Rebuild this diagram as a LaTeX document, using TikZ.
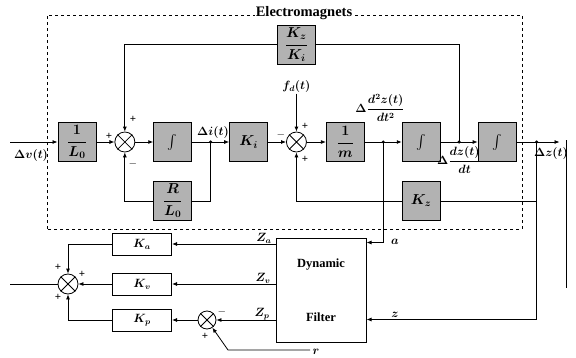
\documentclass[tikz,border=0pt]{standalone}
\usepackage{amsmath}
\usepackage{fontspec}
\setmainfont{Liberation Serif}
\usetikzlibrary{arrows.meta,positioning,calc}

\begin{document}
\begin{tikzpicture}[x=1pt,y=1pt,node distance=18pt,>={Latex[length=5pt,width=4pt]},line width=0.8pt,
font=\fontsize{12}{14}\selectfont\bfseries\boldmath,
gbox/.style={draw,line width=0.9pt,fill=gray!60,minimum width=38pt,minimum height=39pt,inner sep=1pt,
  font=\fontsize{14}{16}\selectfont\bfseries\boldmath},
kbox/.style={draw,line width=1pt,minimum width=59pt,minimum height=22pt,inner sep=1pt},
sumj/.style={draw,circle,minimum size=20pt,inner sep=0pt},
sgn/.style={inner sep=0pt,font=\fontsize{11}{12}\selectfont\bfseries},
lbl/.style={inner sep=1pt}]
\useasboundingbox (0,0) rectangle (576,357);
% electromagnet frame
\draw[dashed,line width=0.7pt] (47,128) rectangle (522,342);
\node[fill=white,inner sep=1pt,anchor=base,font=\fontsize{14.5}{16}\selectfont\bfseries] (emag) at (304,340) {Electromagnets};
% forward chain
\node[gbox] (l0) at (77,215) {$\dfrac{1}{L_0}$};
\node[sumj,right=of l0] (s1) {};
\node[gbox,right=of s1] (int1) {$\int$};
\node[gbox,right=37pt of int1] (ki) {$K_i$};
\node[sumj,right=of ki] (s2) {};
\node[gbox,right=19pt of s2] (m) {$\dfrac{1}{m}$};
\node[gbox,right=37pt of m] (int2) {$\int$};
\node[gbox,right=37pt of int2] (int3) {$\int$};
\node[gbox,above=67pt of s2] (kzki) {$\dfrac{K_z}{K_i}$};
\node[gbox,below=19pt of int1] (rl0) {$\dfrac{R}{L_0}$};
\node[gbox,below=19pt of int2] (kz) {$K_z$};
\node[lbl,above=38pt of s2] (fd) {$f_d(t)$};
\coordinate (tapi) at ($(int1.east)!0.5!(ki.west)$);
\coordinate (tapa) at ($(m.east)!0.5!(int2.west)$);
\coordinate (tapv) at ($(int2.east)!0.5!(int3.west)$);
\coordinate[right=20pt of int3] (tapz);
\coordinate[right=23pt of tapz] (outz);
\coordinate (inv) at (10,215);
% filter and gains
\node[draw,line width=1pt,minimum width=90pt,minimum height=104pt,align=center,
  font=\fontsize{12.5}{14}\selectfont\bfseries] (filt) at (321,67) {Dynamic\\[40pt]Filter};
\node[kbox] (ka) at (142,113) {$K_a$};
\node[kbox] (kv) at (142,73) {$K_v$};
\node[kbox] (kp) at (142,37) {$K_p$};
\node[sumj,minimum size=18pt] (s3) at (207,37) {};
\node[sumj] (s4) at (68,73) {};
\coordinate (outl) at (10,73);
\coordinate (rc) at (228,7);
\coordinate (rend) at (310,7);
\foreach \s in {s1,s2,s3,s4} \draw (\s.45) -- (\s.225) (\s.135) -- (\s.315);
\foreach \p in {tapi,tapa,tapv,tapz} \fill (\p) circle (1.7pt);
% connectors
\draw[->] (inv) -- (l0);
\draw[->] (l0) -- (s1);
\draw[->] (s1) -- (int1);
\draw[->] (int1) -- (ki);
\draw[->] (ki) -- (s2);
\draw[->] (s2) -- (m);
\draw[->] (m) -- (int2);
\draw[->] (int2) -- (int3);
\draw[->] (int3) -- (outz);
\draw (tapv) |- (kzki);
\draw[->] (kzki) -| (s1);
\draw (tapi) |- (rl0);
\draw[->] (rl0) -| (s1);
\draw[->] (fd) -- (s2);
\draw (tapz) |- (kz);
\draw[->] (kz) -| (s2);
\draw[->] (tapa) |- ([yshift=-5pt]filt.north east);
\draw[->] (tapz) |- ([yshift=23pt]filt.south east);
\draw[->] (filt.west |- ka) -- (ka);
\draw[->] (filt.west |- kv) -- (kv);
\draw[->] (filt.west |- kp) -- (s3);
\draw[->] (s3) -- (kp);
\draw[->] (rend) -- (rc) -- (s3);
\draw[->] (ka) -| (s4);
\draw[->] (kv) -- (s4);
\draw[->] (kp) -| (s4);
\draw (s4) -- (outl);
\draw[line width=0.6pt] (566,217) -- (566,69);
% labels
\node[lbl] at (31,202) {$\Delta v(t)$};
\node[lbl] at (213,225) {$\Delta i(t)$};
\node[lbl] at (380,249) {$\Delta\dfrac{d^2z(t)}{dt^2}$};
\node[lbl] at (459,197) {$\Delta\dfrac{dz(t)}{dt}$};
\node[lbl] at (551,204) {$\Delta z(t)$};
\node[lbl] at (264,119) {$Z_a$};
\node[lbl] at (263,79) {$Z_v$};
\node[lbl] at (262,43) {$Z_p$};
\node[lbl] at (395,115) {$a$};
\node[lbl] at (395,42) {$z$};
\node[lbl] at (316,5) {$r$};
% signs
\node[sgn] at (109,221) {+};
\node[sgn] at (133,238) {+};
\node[sgn] at (133,193) {$-$};
\node[sgn] at (281,222) {$-$};
\node[sgn] at (305,231) {+};
\node[sgn] at (305,198) {+};
\node[sgn] at (58,90) {+};
\node[sgn] at (82,83) {+};
\node[sgn] at (58,60) {+};
\node[sgn] at (222,45) {$-$};
\node[sgn] at (205,21) {+};
\end{tikzpicture}
\end{document}
